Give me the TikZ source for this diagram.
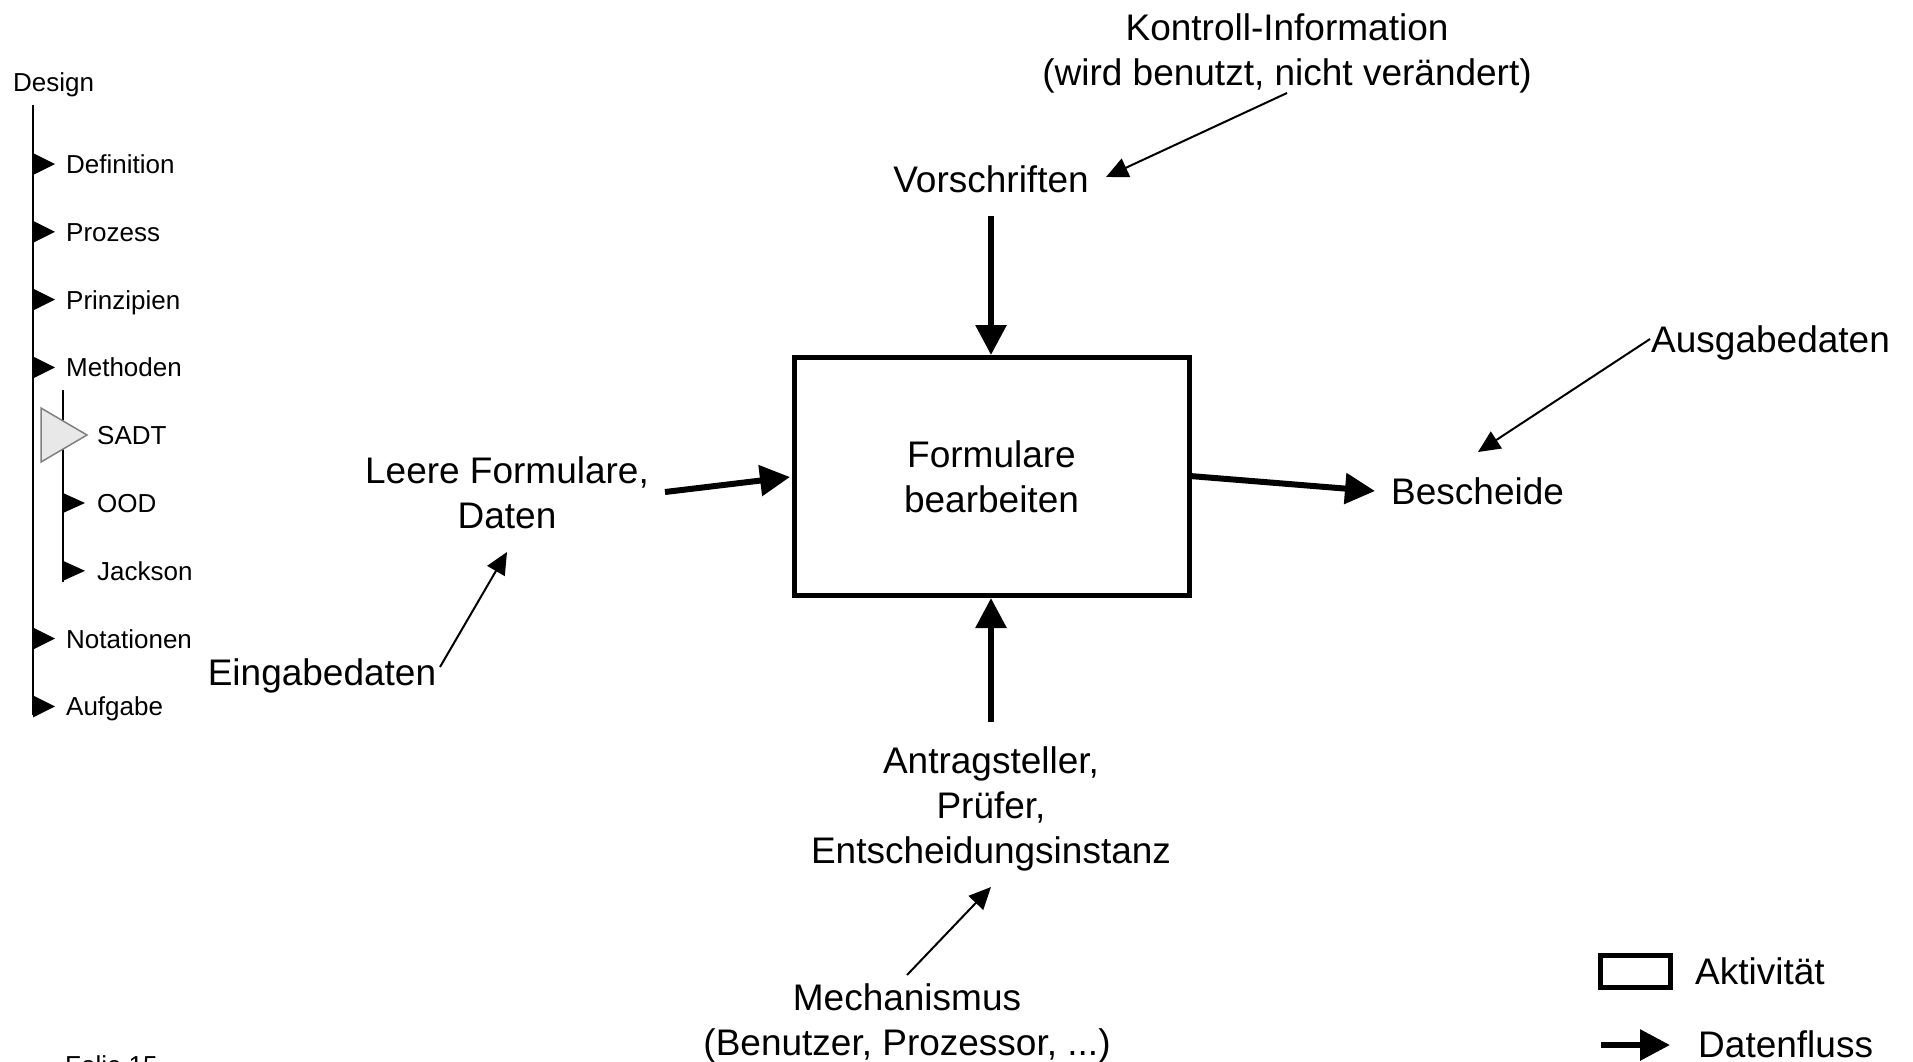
\documentclass[tikz,border=0pt]{standalone}
\usepackage{fontspec}
\setmainfont{Liberation Sans}
\usetikzlibrary{arrows.meta}

\definecolor{sadtfill}{HTML}{E8E8E8}
\definecolor{sadtline}{HTML}{808080}

\begin{document}
\begin{tikzpicture}[x=1pt,y=-1pt,
  big/.style={font=\fontsize{37}{45}\selectfont, inner sep=0pt, align=center, anchor=base},
  bigleft/.style={font=\fontsize{37}{45}\selectfont, inner sep=0pt, anchor=base west},
  small/.style={font=\fontsize{26}{32}\selectfont, inner sep=0pt, anchor=base west},
  activity/.style={draw, line width=5pt, minimum width=395pt, minimum height=238pt,
    inner sep=0pt, align=center, font=\fontsize{37}{45}\selectfont},
  flow/.style={line width=6pt, -{Triangle[length=30pt,width=30pt]}},
  hint/.style={line width=2pt, -{Triangle[length=22pt,width=20pt]}},
  navline/.style={line width=2.5pt},
]
\clip (0,0) rectangle (1913,1061);
\fill[white] (0,0) rectangle (1913,1061);

% ---------- navigation column ----------
\node[small] (design) at (13,91) {Design};
\draw[navline] (33,105) -- (33,715);
\draw[navline] (63,390) -- (63,582);
\foreach \i/\t in {0/Definition,1/Prozess,2/Prinzipien,3/Methoden,7/Notationen,8/Aufgabe} {
  \pgfmathsetmacro\c{164+67.8*\i}
  \fill (33,\c-11) -- (33,\c+11) -- (55,\c) -- cycle;
  \node[small] (nav\i) at (66,\c+9.5) {\t};
}
\foreach \i/\t in {5/OOD,6/Jackson} {
  \pgfmathsetmacro\c{164+67.8*\i}
  \fill (63,\c-10) -- (63,\c+10) -- (85,\c) -- cycle;
  \node[small] (nav\i) at (97,\c+9.5) {\t};
}
\filldraw[fill=sadtfill, draw=sadtline, line width=1.5pt] (41,408) -- (41,462) -- (87,435) -- cycle;
\node[small] (nav4) at (97,444) {SADT};
\node[small] (folie) at (65,1074) {Folie 15};

% ---------- activity and its data ----------
% multi-line labels are placed by the baseline of their last line
\node[activity] (box) at (991.5,476.5) {Formulare\\bearbeiten};

\node[big] (kontroll) at (1287,85) {Kontroll-Information\\(wird benutzt, nicht verändert)};
\node[big] (vorschr) at (991,192) {Vorschriften};
\node[big] (leere) at (507,528) {Leere Formulare,\\Daten};
\node[big] (eingabe) at (322,685) {Eingabedaten};
\node[bigleft] (besch) at (1391,504) {Bescheide};
\node[bigleft] (ausgabe) at (1651,352) {Ausgabedaten};
\node[big] (antrag) at (991,863) {Antragsteller,\\Prüfer,\\Entscheidungsinstanz};
\node[big] (mech) at (907,1055) {Mechanismus\\(Benutzer, Prozessor, ...)};

% connector end points
\coordinate (vorschrOut) at (991,216);
\coordinate (boxTop) at (991,355);
\coordinate (leereOut) at (665,492);
\coordinate (boxLeft) at (790,477);
\coordinate (boxRight) at (1190,476);
\coordinate (beschIn) at (1375,491);
\coordinate (antragOut) at (991,722);
\coordinate (boxBottom) at (991,598);
\coordinate (kontrollOut) at (1287,93);
\coordinate (vorschrIn) at (1106,177);
\coordinate (ausgabeOut) at (1650,339);
\coordinate (beschTop) at (1478,452);
\coordinate (eingabeOut) at (440,667);
\coordinate (leereIn) at (507,552);
\coordinate (mechOut) at (907,975);
\coordinate (antragIn) at (991,887);

\draw[flow] (vorschrOut) -- (boxTop);
\draw[flow] (leereOut) -- (boxLeft);
\draw[flow] (boxRight) -- (beschIn);
\draw[flow] (antragOut) -- (boxBottom);

\draw[hint] (kontrollOut) -- (vorschrIn);
\draw[hint] (ausgabeOut) -- (beschTop);
\draw[hint] (eingabeOut) -- (leereIn);
\draw[hint] (mechOut) -- (antragIn);

% ---------- legend ----------
\node[draw, line width=5pt, minimum width=70pt, minimum height=32.5pt, inner sep=0pt] (legbox) at (1635.5,971.25) {};
\node[bigleft] (legakt) at (1695,984) {Aktivität};
\coordinate (legA) at (1601,1045);
\coordinate (legB) at (1670,1045);
\draw[flow] (legA) -- (legB);
\node[bigleft] (legfluss) at (1698,1057) {Datenfluss};
\end{tikzpicture}
\end{document}
